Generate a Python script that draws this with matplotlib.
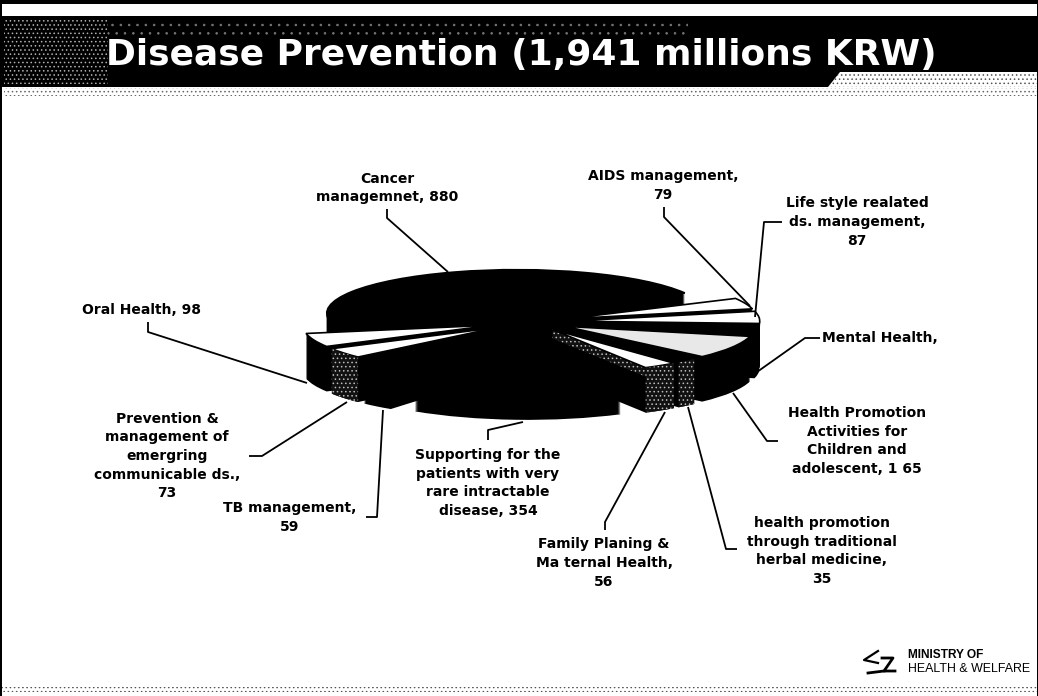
import numpy as np
import matplotlib
matplotlib.use("Agg")
import matplotlib.pyplot as plt
from matplotlib.patches import Rectangle, Polygon
from matplotlib.transforms import Affine2D

plt.rcParams["hatch.linewidth"] = 0.6
W, H = 1038, 696
title = "Disease Prevention (1,941 millions KRW)"
categories = ["Cancer", "AIDS", "Life style", "Mental", "Promotion", "Herbal",
              "Family", "Supporting", "TB", "Prevention", "Oral"]
values = [880, 79, 87, 55, 165, 35, 56, 354, 59, 73, 98]
top_colors = ["black", "white", "white", "black", "#e8e8e8", "black",
              "white", "black", "black", "white", "white"]
labels = [
    ("Cancer\nmanagemnet, 880", 387, 188, "center"),
    ("AIDS management,\n79", 663, 185.5, "center"),
    ("Life style realated\nds. management,\n87", 857, 222, "center"),
    ("Mental Health,", 822, 338, "left"),
    ("Health Promotion\nActivities for\nChildren and\nadolescent, 1 65", 857, 441, "center"),
    ("health promotion\nthrough traditional\nherbal medicine,\n35", 822, 551, "center"),
    ("Family Planing &\nMa ternal Health,\n56", 604, 563, "center"),
    ("Supporting for the\npatients with very\nrare intractable\ndisease, 354", 488, 483, "center"),
    ("TB management,\n59", 290, 517.5, "center"),
    ("Prevention &\nmanagement of\nemergring\ncommunicable ds.,\n73", 167, 456, "center"),
    ("Oral Health, 98", 82, 310, "left"),
]
leaders = [
    [(387, 209), (387, 218), (448, 272)],
    [(664, 207), (664, 217), (750, 306)],
    [(782, 222), (764, 222), (755, 317)],
    [(820, 338), (805, 338), (757, 372)],
    [(778, 441), (767, 441), (733, 393)],
    [(737, 549), (726, 549), (688, 407)],
    [(605, 530), (605, 522), (665, 412)],
    [(488, 440), (488, 430), (523, 422)],
    [(366, 517), (377, 517), (383, 410)],
    [(249, 456), (262, 456), (347, 402)],
    [(148, 322), (148, 332), (307, 383)],
]

fig = plt.figure(figsize=(W / 100, H / 100), dpi=100, facecolor="white")
ax = fig.add_axes([0, 0, 1, 1])

cx, cy, R, squash, depth, start = 530, H - 322, 190, 0.23, 45, 191.0
explode = [0.21] * len(values)
frac = np.array(values) / sum(values)
edges = start - 360 * np.concatenate([[0], np.cumsum(frac)])


def layer(offset, colors, expl, z=2, lw=0.0):
    wedges, _ = ax.pie(values, startangle=start, counterclock=False, colors=colors,
                       explode=expl, radius=1, frame=True)
    tr = Affine2D().scale(R, R * squash).translate(cx, cy - offset) + ax.transData
    for w in wedges:
        w.set_transform(tr)
        w.set_zorder(z)
        w.set_edgecolor("black")
        w.set_linewidth(lw)
    return wedges


# solid black body
black = ["black"] * len(values)
layer(depth * 0.6, black, [0] * len(values), z=2)
for d in np.arange(depth, 0, -1):
    layer(d, black, explode, z=3)
layer(0, top_colors, explode, z=4, lw=1.2)


def offset_of(i):
    mid = np.radians((edges[i] + edges[i + 1]) / 2)
    return np.array([np.cos(mid), np.sin(mid)]) * explode[i]


def rim(i):
    off = offset_of(i)
    th = np.radians(np.linspace(edges[i], edges[i + 1], 12))
    x = cx + R * (off[0] + np.cos(th))
    y = cy + R * squash * (off[1] + np.sin(th))
    pts = list(zip(x, y)) + list(zip(x[::-1], y[::-1] - depth))
    ax.add_patch(Polygon(pts, closed=True, facecolor="#111111", edgecolor="#bdbdbd",
                         hatch="....", linewidth=0, zorder=5))


def radial_face(i, drop):
    off = offset_of(i)
    th = np.radians(edges[i + 1])
    x0, y0 = cx + R * off[0], cy + R * squash * off[1]
    x1, y1 = x0 + R * np.cos(th), y0 + R * squash * np.sin(th)
    pts = [(x0, y0), (x1, y1), (x1, y1 - drop), (x0, y0 - drop)]
    ax.add_patch(Polygon(pts, closed=True, facecolor="#111111", edgecolor="#bdbdbd",
                         hatch="....", linewidth=0, zorder=3.5))


rim(categories.index("Prevention"))
rim(categories.index("Family"))
rim(categories.index("Herbal"))
radial_face(categories.index("Family"), 9)

# header
ax.add_patch(Rectangle((0, H - 87), W, 71, facecolor="black", linewidth=0, zorder=1))
ax.add_patch(Rectangle((4, H - 84), 104, 66, facecolor="black", edgecolor="#b0b0b0",
                       hatch="....", linewidth=0, zorder=1.1))
ax.add_patch(Rectangle((108, H - 36), 580, 14, facecolor="black", edgecolor="#777777",
                       hatch="..", linewidth=0, zorder=1.1))
ax.add_patch(Polygon([(828, H - 87), (840, H - 72), (W, H - 72), (W, H - 87)], closed=True,
                     facecolor="white", edgecolor="#555555", hatch="....", linewidth=0, zorder=1.2))
ax.add_patch(Rectangle((4, H - 96), W - 4, 8, facecolor="white", edgecolor="#666666",
                       hatch="....", linewidth=0, zorder=1.2))
ax.add_patch(Rectangle((0, 4), W, 5, facecolor="white", edgecolor="#555555",
                       hatch="....", linewidth=0, zorder=1.2))
ax.add_patch(Rectangle((0, H - 4), W, 4, facecolor="black", linewidth=0, zorder=1.2))
ax.add_patch(Rectangle((0, 0), 1.5, H, facecolor="black", linewidth=0, zorder=1.2))
ax.add_patch(Rectangle((W - 1.5, 0), 1.5, H, facecolor="black", linewidth=0, zorder=1.2))
ax.text(521, H - 55, title, color="white", fontsize=25.9, fontweight="bold",
        family="DejaVu Sans", ha="center", va="center", zorder=6)

for text, x, y, ha in labels:
    ax.text(x, H - y, text, fontsize=10, fontweight="bold", family="DejaVu Sans",
            ha=ha, va="center", multialignment="center", linespacing=1.42, color="black", zorder=6)
for pts in leaders:
    xs, ys = zip(*pts)
    ax.plot(xs, [H - v for v in ys], color="black", lw=1.3, zorder=6, solid_capstyle="butt")

# ministry mark
ax.plot([878, 864, 878], [H - 651, H - 660, H - 663], color="black", lw=1.6, zorder=6)
ax.plot([882, 893, 884, 895], [H - 658, H - 658, H - 671, H - 671], color="black", lw=2, zorder=6)
ax.plot([868, 884], [H - 673, H - 671], color="black", lw=2, zorder=6)
ax.text(908, H - 655, "MINISTRY OF", fontsize=8.6, fontweight="bold", family="Liberation Sans",
        ha="left", va="center", zorder=6)
ax.text(908, H - 669, "HEALTH & WELFARE", fontsize=8.9, family="Liberation Sans",
        ha="left", va="center", zorder=6)

ax.set_aspect("auto")
ax.set_xlim(0, W)
ax.set_ylim(0, H)
ax.axis("off")
fig.savefig("out.png", dpi=100, facecolor="white")
